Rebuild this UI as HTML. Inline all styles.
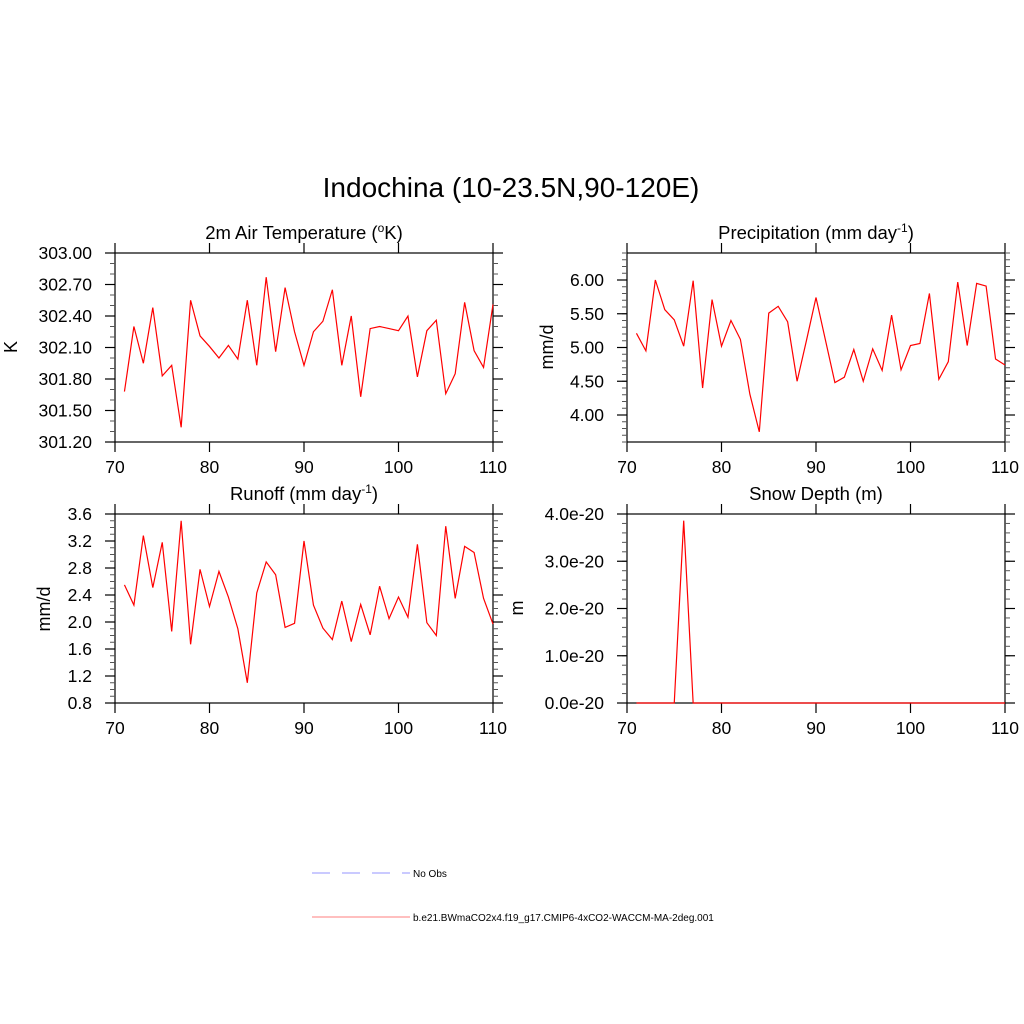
<!DOCTYPE html>
<html><head><meta charset="utf-8"><style>
html,body{margin:0;padding:0;background:#fff;}
svg{display:block;font-family:"Liberation Sans",sans-serif;}
</style></head><body>
<svg id="chart" width="1024" height="1024" viewBox="0 0 1024 1024" xmlns="http://www.w3.org/2000/svg">
<rect width="1024" height="1024" fill="#fff"/>
<text x="511" y="197" font-size="28" text-anchor="middle">Indochina (10-23.5N,90-120E)</text>
<g>
<line x1="312" y1="873" x2="410" y2="873" stroke="#aaaaff" stroke-width="1.2" stroke-dasharray="18,12"/>
<text x="413" y="877" font-size="10">No Obs</text>
<line x1="312" y1="917" x2="410" y2="917" stroke="#ff9999" stroke-width="1.2"/>
<text x="413" y="921" font-size="10">b.e21.BWmaCO2x4.f19_g17.CMIP6-4xCO2-WACCM-MA-2deg.001</text>
</g>
</svg>
<script>
const years = [71,72,73,74,75,76,77,78,79,80,81,82,83,84,85,86,87,88,89,90,91,92,93,94,95,96,97,98,99,100,101,102,103,104,105,106,107,108,109,110];
const tempValues = [301.68,302.30,301.95,302.48,301.83,301.93,301.34,302.55,302.21,302.11,302.00,302.12,301.99,302.55,301.93,302.77,302.06,302.67,302.25,301.93,302.25,302.35,302.65,301.93,302.40,301.63,302.28,302.30,302.28,302.26,302.40,301.82,302.26,302.36,301.66,301.85,302.53,302.07,301.91,302.51];
const precValues = [5.21,4.95,6.00,5.56,5.41,5.02,5.99,4.40,5.71,5.02,5.40,5.12,4.31,3.75,5.51,5.61,5.38,4.50,5.11,5.74,5.11,4.48,4.56,4.97,4.50,4.98,4.66,5.48,4.67,5.03,5.06,5.80,4.53,4.79,5.97,5.03,5.95,5.91,4.83,4.74];
const runoffValues = [2.55,2.25,3.28,2.51,3.18,1.86,3.50,1.67,2.78,2.23,2.75,2.37,1.90,1.10,2.43,2.89,2.70,1.92,1.98,3.20,2.25,1.91,1.74,2.31,1.71,2.26,1.81,2.53,2.05,2.37,2.07,3.15,1.99,1.80,3.42,2.35,3.12,3.03,2.35,1.97];
const snowValues = [0,0,0,0,0,3.86e-20,0,0,0,0,0,0,0,0,0,0,0,0,0,0,0,0,0,0,0,0,0,0,0,0,0,0,0,0,0,0,0,0,0,0];
const xTicks = [70,80,90,100,110];
const tempTicks = ["301.20","301.50","301.80","302.10","302.40","302.70","303.00"];
const precTicks = ["4.00","4.50","5.00","5.50","6.00"];
const runoffTicks = ["0.8","1.2","1.6","2.0","2.4","2.8","3.2","3.6"];
const snowTicks = ["0.0e-20","1.0e-20","2.0e-20","3.0e-20","4.0e-20"];

const NS="http://www.w3.org/2000/svg";
const svg=document.getElementById('chart');
function mk(tag,attrs,parent){const e=document.createElementNS(NS,tag);for(const k in attrs)e.setAttribute(k,attrs[k]);(parent||svg).appendChild(e);return e;}

const panels=[
 {id:'temp',title:'2m Air Temperature (',sup:'o',tail:'K)',ytitle:'K',yt:[17,347],x0:115,x1:493,y0:253,y1:442,ymin:301.2,ymax:303.0,ticks:tempTicks,minor:0.1,vals:tempValues,scale:1},
 {id:'precip',title:'Precipitation (mm day',sup:'-1',tail:')',ytitle:'mm/d',yt:[553,347],x0:627,x1:1005,y0:253,y1:442,ymin:3.6,ymax:6.4,ticks:precTicks,minor:0.1,vals:precValues,scale:1},
 {id:'runoff',title:'Runoff (mm day',sup:'-1',tail:')',ytitle:'mm/d',yt:[50,609],x0:115,x1:493,y0:514,y1:703,ymin:0.8,ymax:3.6,ticks:runoffTicks,minor:0.1,vals:runoffValues,scale:1},
 {id:'snow',title:'Snow Depth (m)',sup:'',tail:'',ytitle:'m',yt:[523,608],x0:627,x1:1005,y0:514,y1:703,ymin:0,ymax:4,ticks:snowTicks,minor:0.2,vals:snowValues,scale:1e20}
];

panels.forEach(p=>{
 const g=mk('g',{});
 
 
 const xs=v=>p.x0+(v-70)/(110-70)*(p.x1-p.x0);
 const ys=v=>p.y1-(v-p.ymin)/(p.ymax-p.ymin)*(p.y1-p.y0);
 const t=mk('text',{x:(p.x0+p.x1)/2,y:p.y0-14,'font-size':18.5,'text-anchor':'middle'},g);
 
 
 t.appendChild(document.createTextNode(p.title));
 if(p.sup){const s=mk('tspan',{dy:-7,'font-size':12},t);s.textContent=p.sup;const s2=mk('tspan',{dy:7},t);s2.textContent=p.tail;}
 const yt=mk('text',{x:p.yt[0],y:p.yt[1],'font-size':18,'text-anchor':'middle',transform:`rotate(-90 ${p.yt[0]} ${p.yt[1]})`},g);
 
 
 yt.textContent=p.ytitle;
 const fr=mk('rect',{x:p.x0,y:p.y0,width:p.x1-p.x0,height:p.y1-p.y0,fill:'none',stroke:'#000','stroke-width':1.2},g);
 
 
 xTicks.forEach(v=>{
  const x=xs(v);
  mk('line',{x1:x,y1:p.y1,x2:x,y2:p.y1+10,stroke:'#000','stroke-width':1.2},g);
  mk('line',{x1:x,y1:p.y0,x2:x,y2:p.y0-10,stroke:'#000','stroke-width':1.2},g);
  const l=mk('text',{x:x,y:p.y1+31,'font-size':17.5,'text-anchor':'middle'},g);
  
  
  l.textContent=v;
 });
 const eps=1e-9;
 for(let v=p.ymin;v<=p.ymax+eps;v+=p.minor){
  const y=ys(v);
  mk('line',{x1:p.x0,y1:y,x2:p.x0-5,y2:y,stroke:'#555','stroke-width':1},g);
  mk('line',{x1:p.x1,y1:y,x2:p.x1+5,y2:y,stroke:'#555','stroke-width':1},g);
 }
 p.ticks.forEach(s=>{
  const v=parseFloat(s)*p.scale;
  const y=ys(v);
  mk('line',{x1:p.x0,y1:y,x2:p.x0-10,y2:y,stroke:'#000','stroke-width':1.2},g);
  mk('line',{x1:p.x1,y1:y,x2:p.x1+10,y2:y,stroke:'#000','stroke-width':1.2},g);
  const l=mk('text',{x:p.x0-23,y:y+6,'font-size':17.5,'text-anchor':'end'},g);
  
  
  l.textContent=s;
 });
 const pts=years.map((yr,i)=>xs(yr).toFixed(2)+','+ys(p.vals[i]*p.scale).toFixed(2)).join(' ');
 const pl=mk('polyline',{points:pts,fill:'none',stroke:'#ff0000','stroke-width':1.2},g);
 
 
});
</script>
</body></html>
